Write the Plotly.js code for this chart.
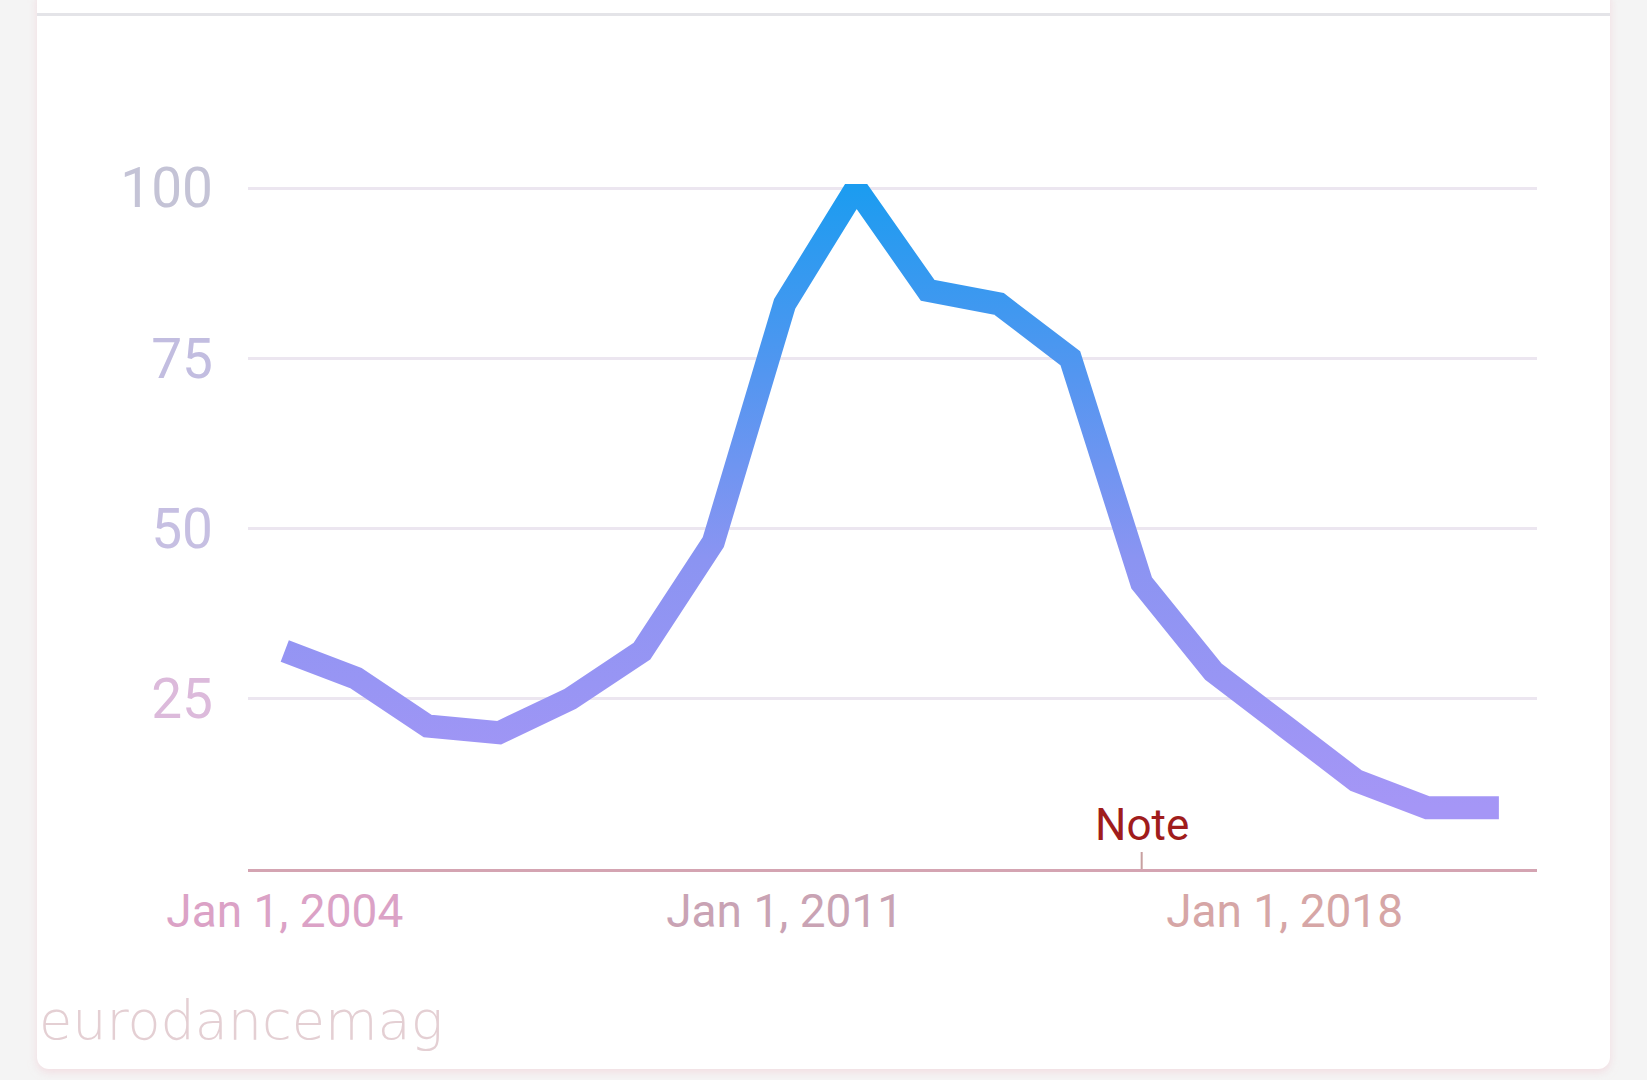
<!DOCTYPE html>
<html>
<head>
<meta charset="utf-8">
<script src="https://cdn.plot.ly/plotly-3.0.1.min.js"></script>
<style>
  html, body { margin:0; padding:0; background:#f4f4f4; width:1647px; height:1080px; overflow:hidden; }
  #card { position:absolute; left:37px; top:-12px; width:1573px; height:1081px; background:#ffffff;
          border-radius:12px; box-shadow:0 3px 8px rgba(240,200,210,0.55); }
  #topline { position:absolute; left:37px; top:13px; width:1573px; height:3px; background:#e4e4e8; }
  #chart { position:absolute; left:0; top:0; width:1647px; height:1080px; }
</style>
</head>
<body>
<div id="card"></div>
<div id="topline"></div>
<div id="chart"></div>
<script>
// ---- data ----
const years = ["2004-01-01","2005-01-01","2006-01-01","2007-01-01","2008-01-01","2009-01-01",
               "2010-01-01","2011-01-01","2012-01-01","2013-01-01","2014-01-01","2015-01-01",
               "2016-01-01","2017-01-01","2018-01-01","2019-01-01","2020-01-01","2021-01-01"];
const interest = [32, 28, 21, 20, 25, 32, 48, 83, 100, 85, 83, 75, 42, 29, 21, 13, 9, 9];

const xTickVals = ["2004-01-01","2011-01-01","2018-01-01"];
const xTickText = ["Jan 1, 2004","Jan 1, 2011","Jan 1, 2018"];
const xTickColors = ["#dba2c6","#c9a3b4","#d6a6a6"];
const yTickVals = [25, 50, 75, 100];
const yTickText = ["25","50","75","100"];
const yTickColors = ["#dcbadb","#c6bfe2","#c2bde0","#c4c3d6"];

const noteDate = "2016-01-01";
const noteText = "Note";
const watermark = "eurodancemag";

const trace = {
  x: years, y: interest, type: "scatter", mode: "lines",
  line: { color: "#7f95f2", width: 23, shape: "linear" },
  hoverinfo: "skip"
};

const layout = {
  width: 1647, height: 1080,
  margin: { l: 248, r: 110, t: 184, b: 211, pad: 0 },
  paper_bgcolor: "rgba(0,0,0,0)",
  plot_bgcolor: "rgba(0,0,0,0)",
  showlegend: false,
  font: { family: "Roboto, sans-serif" },
  xaxis: {
    type: "date",
    range: ["2003-06-27", "2021-07-15"],
    tickvals: xTickVals,
    ticktext: xTickText.map((t, i) => '<span style="fill:' + xTickColors[i] + '">' + t + '</span>'),
    tickfont: { size: 46, color: "#d0a4b0", family: "Roboto, sans-serif" },
    showgrid: false, zeroline: false,
    showline: true, linecolor: "#d4a4b2", linewidth: 3,
    ticks: "", ticklabelstandoff: 0
  },
  yaxis: {
    range: [0, 100.6],
    tickvals: yTickVals,
    ticktext: yTickText.map((t, i) => '<span style="fill:' + yTickColors[i] + '">' + t + '</span>'),
    tickfont: { size: 55, color: "#c4c0dc", family: "Roboto, sans-serif" },
    showgrid: true, gridcolor: "#ece6f0", gridwidth: 3,
    zeroline: false, showline: false, ticks: "",
    ticklabelstandoff: 34
  },
  annotations: [
    {
      x: noteDate, y: 0, xref: "x", yref: "y",
      text: noteText, showarrow: true, arrowhead: 0, arrowwidth: 2, arrowcolor: "#c8a0a0",
      ax: 0, ay: -17, xanchor: "center", yanchor: "bottom", borderpad: 0,
      font: { size: 44, color: "#a01c1c", family: "Roboto, sans-serif" }
    },
    {
      x: -0.164, y: -0.27, xref: "paper", yref: "paper",
      text: watermark, showarrow: false, xanchor: "left", yanchor: "bottom",
      font: { size: 54, color: "#e4cfd3", family: "DejaVu Sans, sans-serif", weight: 200 }
    }
  ]
};

Plotly.newPlot("chart", [trace], layout, { staticPlot: true, displayModeBar: false }).then(function (gd) {
  const svg = gd.querySelector("svg.main-svg");
  const ns = "http://www.w3.org/2000/svg";
  let defs = svg.querySelector("defs");
  if (!defs) { defs = document.createElementNS(ns, "defs"); svg.insertBefore(defs, svg.firstChild); }
  const grad = document.createElementNS(ns, "linearGradient");
  grad.setAttribute("id", "lineGrad");
  grad.setAttribute("x1", "0"); grad.setAttribute("y1", "0");
  grad.setAttribute("x2", "0"); grad.setAttribute("y2", "1");
  [["0", "#1c9cf0"], ["0.3", "#5396f0"], ["0.6", "#8b94f2"], ["1", "#a596f6"]].forEach(function (s) {
    const st = document.createElementNS(ns, "stop");
    st.setAttribute("offset", s[0]); st.setAttribute("stop-color", s[1]);
    grad.appendChild(st);
  });
  defs.appendChild(grad);
  gd.querySelectorAll(".scatterlayer .js-line").forEach(function (p) {
    p.style.stroke = "url(#lineGrad)";
  });
});
</script>
</body>
</html>
